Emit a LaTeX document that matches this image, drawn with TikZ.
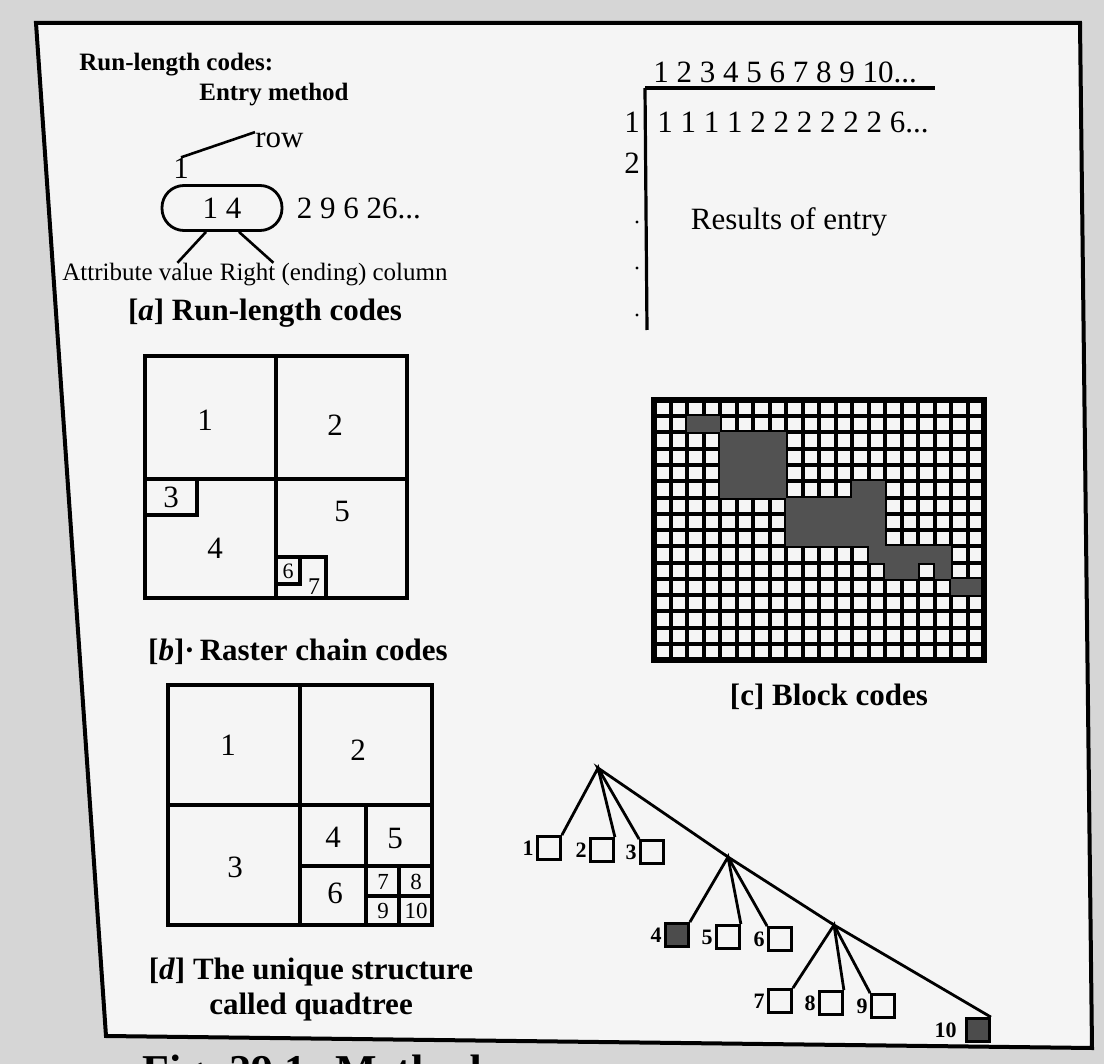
\documentclass[tikz,border=0pt]{standalone}
\usepackage{fontspec}
\setmainfont{Liberation Serif}
\usetikzlibrary{positioning}

\tikzset{
  txt/.style={inner sep=0pt, font=\fontsize{15.5}{17}\selectfont},
  small/.style={inner sep=0pt, font=\fontsize{12.5}{14}\selectfont},
  ttl/.style={inner sep=0pt, font=\bfseries\fontsize{12.5}{15}\selectfont},
  capt/.style={inner sep=0pt, align=center, font=\bfseries\fontsize{15.5}{17.5}\selectfont},
  boxline/.style={line width=1.6pt},
  gridline/.style={line width=2pt},
  blockfill/.style={fill=black!68},
  leaf/.style={draw, line width=1.4pt, minimum size=11.5pt, inner sep=0pt},
  darkleaf/.style={leaf, fill=black!70},
  leafnum/.style={inner sep=1pt, font=\bfseries\fontsize{11}{11}\selectfont},
}

\begin{document}
\begin{tikzpicture}[x=0.5pt, y=-0.5pt]
  % Page and frame
  \useasboundingbox (0,0) rectangle (1104,1064);
  \fill[black!16] (0,0) rectangle (1104,1064);
  \filldraw[fill=black!4, line width=2pt] (36,23) -- (1080,23) -- (1092,1048) -- (106,1036) -- cycle;

  % [a] Run-length codes
  \node[ttl, anchor=west] (rlc) at (79,65) {Run-length codes:};
  \node[ttl] (entry) at (274,95) {Entry method};
  \node[txt, anchor=west] (rowlbl) at (255,140) {row};
  \node[txt] (one) at (181,168) {1};
  \node[txt, draw, line width=1.4pt, rounded corners=11pt, minimum width=60pt, minimum height=22.5pt] (pill) at (222,208) {1 4};
  \node[txt, right=6.5pt of pill] (runs) {2 9 6 26...};
  \node[small, anchor=west] (attr) at (62,272) {Attribute value};
  \node[small, base right=3pt of attr] (endcol) {Right (ending) column};
  \draw[line width=1.3pt] (one.north) -- (rowlbl.north west);
  \draw[line width=1.3pt] ([xshift=-8pt]pill.south) -- ([xshift=-18pt]attr.north east);
  \draw[line width=1.3pt] ([xshift=8.5pt]pill.south) -- ([xshift=27pt]endcol.north west);
  \node[capt] (capa) at (265,313) {[\textit{a}] Run-length codes};

  % Results of entry
  \node[txt, anchor=west] (colnums) at (653,72) {1 2 3 4 5 6 7 8 9 10...};
  \coordinate (corner) at (645,88);
  \draw[boxline] (corner) -- ++(290,0);
  \draw[boxline] (corner) -- ++(2,242);
  \node[txt] (r1) at (632,122) {1};
  \node[txt, anchor=west] (row1) at (657,122) {1 1 1 1 2 2 2 2 2 2 6...};
  \node[txt] (r2) at (632,163) {2};
  \foreach \y in {222,268,315}
    \fill (637,\y) circle (1.6);
  \node[txt] (results) at (789,222) {Results of entry};

  % [b] Raster chain codes
  \draw[boxline] (145,356) rectangle (407,598);
  \draw[boxline] (276,356) -- (276,598);
  \draw[boxline] (145,479) -- (407,479);
  \draw[boxline] (145,515) -| (197,479);
  \draw[boxline] (276,557) -| (326,598);
  \draw[boxline] (276,584) -| (300,557);
  \foreach \n/\x/\y in {1/205/420, 2/335/425, 3/171/497, 4/215/548, 5/342/512}
    \node[txt] (b\n) at (\x,\y) {\n};
  \node[txt, font=\fontsize{11}{12}\selectfont] (b6) at (288,571) {6};
  \node[txt, font=\fontsize{12}{12}\selectfont] (b7) at (314,587) {7};
  \node[capt] (capb) at (298,652) {[\textit{b}]·\,Raster chain codes};

  % [c] Block codes
  \foreach \c in {0,...,20}
    \draw[gridline] (654+16.5*\c,400) -- (654+16.5*\c,660);
  \foreach \r in {0,...,16}
    \draw[gridline] (654,400+16.25*\r) -- (984,400+16.25*\r);
  \foreach \r/\a/\b in {1/2/3, 2/4/7, 3/4/7, 4/4/7, 5/4/7, 5/12/13, 6/8/13, 7/8/13,
                        8/8/13, 9/13/17, 10/14/15, 10/17/17, 11/18/19}
    \fill[blockfill] (654+16.5*\a,400+16.25*\r) rectangle (654+16.5*\b+16.5,400+16.25*\r+16.25);
  \draw[line width=2.6pt] (654,400) rectangle (984,660);
  \node[capt] (capc) at (829,697) {[c] Block codes};

  % [d] quadtree
  \draw[boxline] (168,685) rectangle (432,925);
  \draw[boxline] (300,685) -- (300,925);
  \draw[boxline] (168,805) -- (432,805);
  \draw[boxline] (366,805) -- (366,925);
  \draw[boxline] (300,866) -- (432,866);
  \draw[boxline] (399,866) -- (399,925);
  \draw[boxline] (366,896) -- (432,896);
  \foreach \n/\x/\y in {1/228/745, 2/358/750, 3/235/867, 4/333/837, 5/395/838, 6/335/893}
    \node[txt] (d\n) at (\x,\y) {\n};
  \foreach \n/\x/\y in {7/383/882, 8/416/882, 9/383/911, 10/416/911}
    \node[txt, font=\fontsize{11.5}{12}\selectfont] (d\n) at (\x,\y) {\n};
  \node[capt] (capd) at (311,990) {[\textit{d}] The unique structure\\called quadtree};

  % Tree
  \coordinate (root) at (598,768);
  \coordinate (n1) at (728,857);
  \coordinate (n2) at (834,925);
  \node[leaf, label={[leafnum]left:1}] (q1) at (549,848) {};
  \node[leaf, label={[leafnum]left:2}] (q2) at (602,850) {};
  \node[leaf, label={[leafnum]left:3}] (q3) at (652,852) {};
  \node[darkleaf, label={[leafnum]left:4}] (q4) at (677,935) {};
  \node[leaf, label={[leafnum]left:5}] (q5) at (728,937) {};
  \node[leaf, label={[leafnum]left:6}] (q6) at (780,939) {};
  \node[leaf, label={[leafnum]left:7}] (q7) at (780,1001) {};
  \node[leaf, label={[leafnum]left:8}] (q8) at (831,1003) {};
  \node[leaf, label={[leafnum]left:9}] (q9) at (883,1006) {};
  \node[darkleaf, label={[leafnum, xshift=-3pt]left:10}] (q10) at (978,1030) {};
  \draw[line width=1.4pt] (q1.north east) -- (root) -- (q2.north east);
  \draw[line width=1.4pt] (q3.north west) -- (root) -- (n1);
  \draw[line width=1.4pt] (q4.north east) -- (n1) -- (q5.north east);
  \draw[line width=1.4pt] (q6.north west) -- (n1) -- (n2);
  \draw[line width=1.4pt] (q7.north east) -- (n2) -- (q8.north east);
  \draw[line width=1.4pt] (q9.north west) -- (n2) -- (q10.north east);

  % Figure caption, cut by the page edge
  \node[anchor=base west, inner sep=0pt, font=\bfseries\fontsize{22}{24}\selectfont] (fig) at (142,1085) {Fig. 29.1: Methods};
\end{tikzpicture}
\end{document}
